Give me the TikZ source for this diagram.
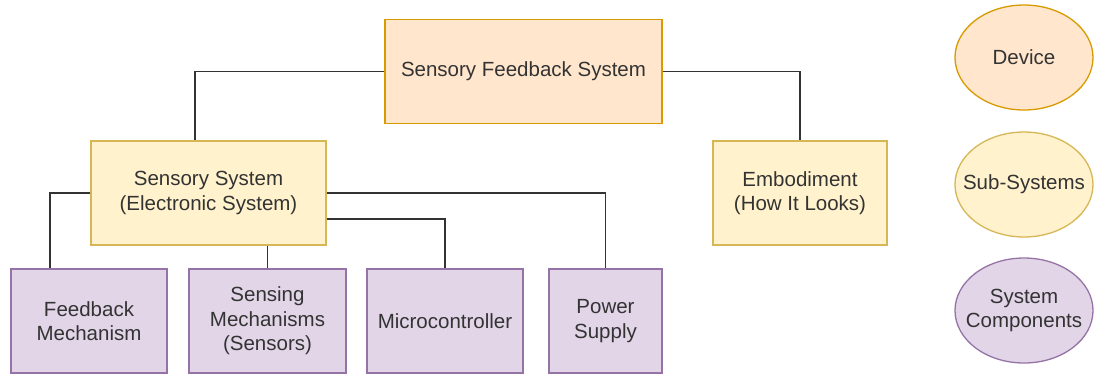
\documentclass[tikz,border=0pt]{standalone}
\usepackage{fontspec}
\setmainfont{Liberation Sans}
\usetikzlibrary{shapes.geometric}
\definecolor{orfill}{HTML}{FFE6CC}
\definecolor{ordraw}{HTML}{D79B00}
\definecolor{yefill}{HTML}{FFF2CC}
\definecolor{yedraw}{HTML}{D6B656}
\definecolor{pufill}{HTML}{E1D5E7}
\definecolor{pudraw}{HTML}{9673A6}
\definecolor{txt}{HTML}{333333}
\definecolor{ln}{HTML}{333333}
\tikzset{
  base/.style={inner sep=0pt, align=center, text=txt, line width=1.3pt,
    font=\fontsize{20.5}{24.6}\selectfont, minimum height=104pt},
  devbox/.style={base, rectangle, fill=orfill, draw=ordraw},
  subbox/.style={base, rectangle, fill=yefill, draw=yedraw},
  compbox/.style={base, rectangle, fill=pufill, draw=pudraw},
  legell/.style={base, ellipse, inner xsep=-22pt, minimum width=138pt, minimum height=105pt},
  conn/.style={draw=ln, line width=1.6pt}
}
\begin{document}
\begin{tikzpicture}[x=1pt,y=-1pt]
\useasboundingbox (0,0) rectangle (1094,376);
\node[devbox, minimum width=277pt] (top) at (523.5,71.5) {Sensory Feedback System};
\node[subbox, minimum width=235pt] (sens) at (208.5,193) {Sensory System\\(Electronic System)};
\node[subbox, minimum width=174pt] (emb) at (800,193) {Embodiment\\(How It Looks)};
\node[compbox, minimum width=156pt] (fb) at (89,321) {Feedback\\Mechanism};
\node[compbox, minimum width=157pt] (sm) at (267.5,321) {Sensing\\Mechanisms\\(Sensors)};
\node[compbox, minimum width=156pt] (mc) at (445,321) {Microcontroller};
\node[compbox, minimum width=113pt] (ps) at (605.5,321) {Power\\Supply};
\node[legell, fill=orfill, draw=ordraw] (ldev) at (1024,57.5) {Device};
\node[legell, fill=yefill, draw=yedraw] (lsub) at (1024,184.5) {Sub-Systems};
\node[legell, fill=pufill, draw=pudraw] (lcomp) at (1024,310.5) {System\\Components};
\draw[conn] (top.west) -| ([xshift=-13.5pt]sens.north);
\draw[conn] (top.east) -| (emb.north);
\draw[conn] (sens.west) -| ([xshift=-39pt]fb.north);
\draw[conn] (sens.east) -| (ps.north);
\draw[conn] ([yshift=-26pt]sens.east) -| (mc.north);
\draw[conn] (sm.north) -- (sm.north |- sens.south);
\end{tikzpicture}
\end{document}
